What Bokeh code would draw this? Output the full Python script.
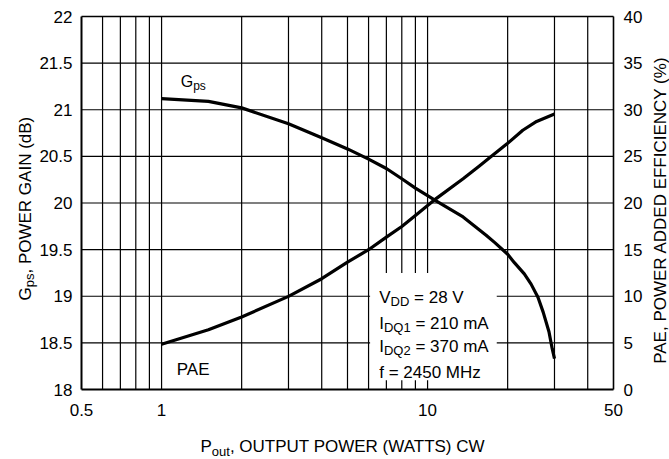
from math import pi
from bokeh.plotting import figure
from bokeh.models import (Range1d, LinearAxis, FixedTicker, CustomJSTickFormatter,
                          Label, BoxAnnotation)
from bokeh.embed import file_html
from bokeh.resources import INLINE

# ---------------- data ----------------
gps_x = [1, 1.5, 2, 3, 4, 5, 6, 7, 8, 9, 10.8, 13.6, 16.6, 17.9, 20, 21.2, 23.1, 24.5,
         26, 27.2, 28.6, 29.4, 30]
gps_db = [21.12, 21.09, 21.02, 20.85, 20.70, 20.58, 20.47, 20.37, 20.26, 20.16, 20.02,
          19.85, 19.655, 19.575, 19.45, 19.36, 19.24, 19.13, 18.99, 18.83, 18.62, 18.44, 18.33]

pae_x = [1, 1.5, 2, 3, 4, 5, 6, 7, 8, 9, 10.8, 13.6, 15.7, 17.1, 20, 22.8, 25.7, 30]
pae_pct = [4.85, 6.4, 7.77, 9.99, 11.88, 13.66, 14.99, 16.34, 17.48, 18.66, 20.5,
           22.6, 24.0, 24.85, 26.4, 27.8, 28.75, 29.55]

x_tick_labels = [0.5, 1, 10, 50]
x_grid = [0.6, 0.7, 0.8, 0.9, 1, 2, 3, 4, 5, 6, 7, 8, 9, 10, 20, 30, 40]
gain_ticks = [18, 18.5, 19, 19.5, 20, 20.5, 21, 21.5, 22]
pae_ticks = [0, 5, 10, 15, 20, 25, 30, 35, 40]

FONT = "Liberation Sans"
W_PX, H_PX = 669, 459
# chart area inside the canvas (pixels)
CL, CR, CT, CB = 81, 613, 16, 389

xmin, xmax = x_tick_labels[0], x_tick_labels[-1]
gmin, gmax = gain_ticks[0], gain_ticks[-1]
pmin, pmax = pae_ticks[0], pae_ticks[-1]

dec_px = (CR - CL) / 2.0
x_start = xmin / 10 ** (CL / dec_px)
x_end = xmax * 10 ** ((W_PX - CR) / dec_px)
g_px = (CB - CT) / (gmax - gmin)
p_px = (CB - CT) / (pmax - pmin)

p = figure(width=W_PX, height=H_PX, x_axis_type="log",
           x_range=Range1d(x_start, x_end),
           y_range=Range1d(gmin - (H_PX - CB) / g_px, gmax + CT / g_px),
           output_backend="svg", toolbar_location=None,
           min_border_left=0, min_border_right=0, min_border_top=0, min_border_bottom=0)
p.extra_y_ranges = {"pae": Range1d(pmin - (H_PX - CB) / p_px, pmax + CT / p_px)}
p.background_fill_color = "white"
p.border_fill_color = "white"
p.outline_line_color = None
p.xgrid.visible = False
p.ygrid.visible = False

# grid lines restricted to the chart area
p.segment(x0=x_grid, y0=[gmin] * len(x_grid), x1=x_grid, y1=[gmax] * len(x_grid),
          line_color="black", line_width=1.2)
h_grid = gain_ticks[1:-1]
p.segment(x0=[xmin] * len(h_grid), y0=h_grid, x1=[xmax] * len(h_grid), y1=h_grid,
          line_color="black", line_width=1.2)

# axes pinned to the chart-area edges
xax = p.xaxis[0]
yax = p.yaxis[0]
xax.fixed_location = gmin
xax.bounds = (xmin, xmax)
xax.ticker = FixedTicker(ticks=x_tick_labels)
xax.formatter = CustomJSTickFormatter(code="return tick.toString()")
yax.fixed_location = xmin
yax.bounds = (gmin, gmax)
yax.ticker = FixedTicker(ticks=gain_ticks)

right = LinearAxis(y_range_name="pae", fixed_location=xmax, bounds=(pmin, pmax),
                   ticker=FixedTicker(ticks=pae_ticks))
p.add_layout(right, "right")
top = LinearAxis(fixed_location=gmax, bounds=(xmin, xmax),
                 ticker=FixedTicker(ticks=[]), major_label_text_alpha=0)
p.add_layout(top, "above")

for ax in [xax, yax, right, top]:
    ax.major_tick_in = 0
    ax.major_tick_out = 0
    ax.minor_tick_in = 0
    ax.minor_tick_out = 0
    ax.axis_line_color = "black"
    ax.major_label_text_font = FONT
    ax.major_label_text_font_size = "17px"
    ax.major_label_text_color = "black"
xax.axis_line_width = 2
yax.axis_line_width = 2
right.axis_line_width = 1.6
top.axis_line_width = 1.6
xax.major_label_standoff = 14
yax.major_label_standoff = 9
right.major_label_standoff = 10

# curves
p.line(gps_x, gps_db, line_color="black", line_width=3.2, line_join="round")
p.line(pae_x, pae_pct, y_range_name="pae", line_color="black", line_width=3.2,
       line_join="round")

# white box behind the conditions text
p.add_layout(BoxAnnotation(left=6.08, right=18.2, bottom=18.1, top=19.25,
                           fill_color="white", fill_alpha=1.0, line_color=None))

# ---------------- rich text helper ----------------
W = {' ': 278, ',': 278, '.': 278, '(': 333, ')': 333, '%': 889, '=': 584,
     'A': 667, 'B': 667, 'C': 722, 'D': 722, 'E': 667, 'F': 611, 'G': 778, 'H': 722,
     'I': 278, 'K': 667, 'L': 556, 'M': 833, 'N': 722, 'O': 778, 'P': 667, 'Q': 778,
     'R': 722, 'S': 667, 'T': 611, 'U': 722, 'V': 667, 'W': 944, 'Y': 667,
     'a': 556, 'b': 556, 'd': 556, 'f': 278, 'm': 833, 'o': 556, 'p': 556,
     's': 500, 't': 278, 'u': 556, 'z': 500}
for d in "0123456789":
    W[d] = 556


def tw(s, size):
    return sum(W.get(c, 556) for c in s) * size / 1000.0


def add_rich(pieces, x, y, dx=0, dy=0, vertical=False, y_range_name="default", units="data"):
    acc = 0.0
    for txt, size, shift in pieces:
        stripped = txt.lstrip(" ")
        acc += tw(txt[:len(txt) - len(stripped)], size)
        kw = dict(x=x, y=y, text=stripped, text_font=FONT, text_font_size=f"{size}px",
                  text_color="black", text_baseline="alphabetic", text_align="left",
                  x_units=units, y_units=units)
        if units == "data":
            kw["y_range_name"] = y_range_name
        if vertical:
            lab = Label(x_offset=dx + shift, y_offset=dy + acc, angle=pi / 2, **kw)
        else:
            lab = Label(x_offset=dx + acc, y_offset=dy - shift, **kw)
        p.add_layout(lab)
        acc += tw(stripped, size)


# axis titles (screen units: the frame is the whole canvas, y measured upward)
add_rich([("G", 17, 0), ("ps", 13, 4), (", POWER GAIN (dB)", 17, 0)],
         25, H_PX - 300, vertical=True, units="screen")
add_rich([("P", 17, 0), ("out", 13, 4.5), (", OUTPUT POWER (WATTS) CW", 17, 0)],
         200, H_PX - 446, units="screen")
p.add_layout(Label(x=660, y=H_PX - 209.5, x_units="screen", y_units="screen",
                   angle=pi / 2, text="PAE, POWER ADDED EFFICIENCY (%)", text_font=FONT,
                   text_font_size="17px", text_color="black",
                   text_align="center", text_baseline="alphabetic"))

# curve labels
add_rich([("G", 16, 0), ("ps", 12, 4)], 1.18, 21.30)
add_rich([("PAE", 17, 0)], 1.14, 2.1, y_range_name="pae")

# conditions
add_rich([("V", 17, 0), ("DD", 13, 4), (" = 28 V", 17, 0)], 6.58, 18.99)
add_rich([("I", 17, 0), ("DQ1", 13, 4), (" = 210 mA", 17, 0)], 6.58, 18.71)
add_rich([("I", 17, 0), ("DQ2", 13, 4), (" = 370 mA", 17, 0)], 6.58, 18.456)
add_rich([("f = 2450 MHz", 17, 0)], 6.58, 18.18)

open("out.html", "w").write(file_html(p, INLINE))
